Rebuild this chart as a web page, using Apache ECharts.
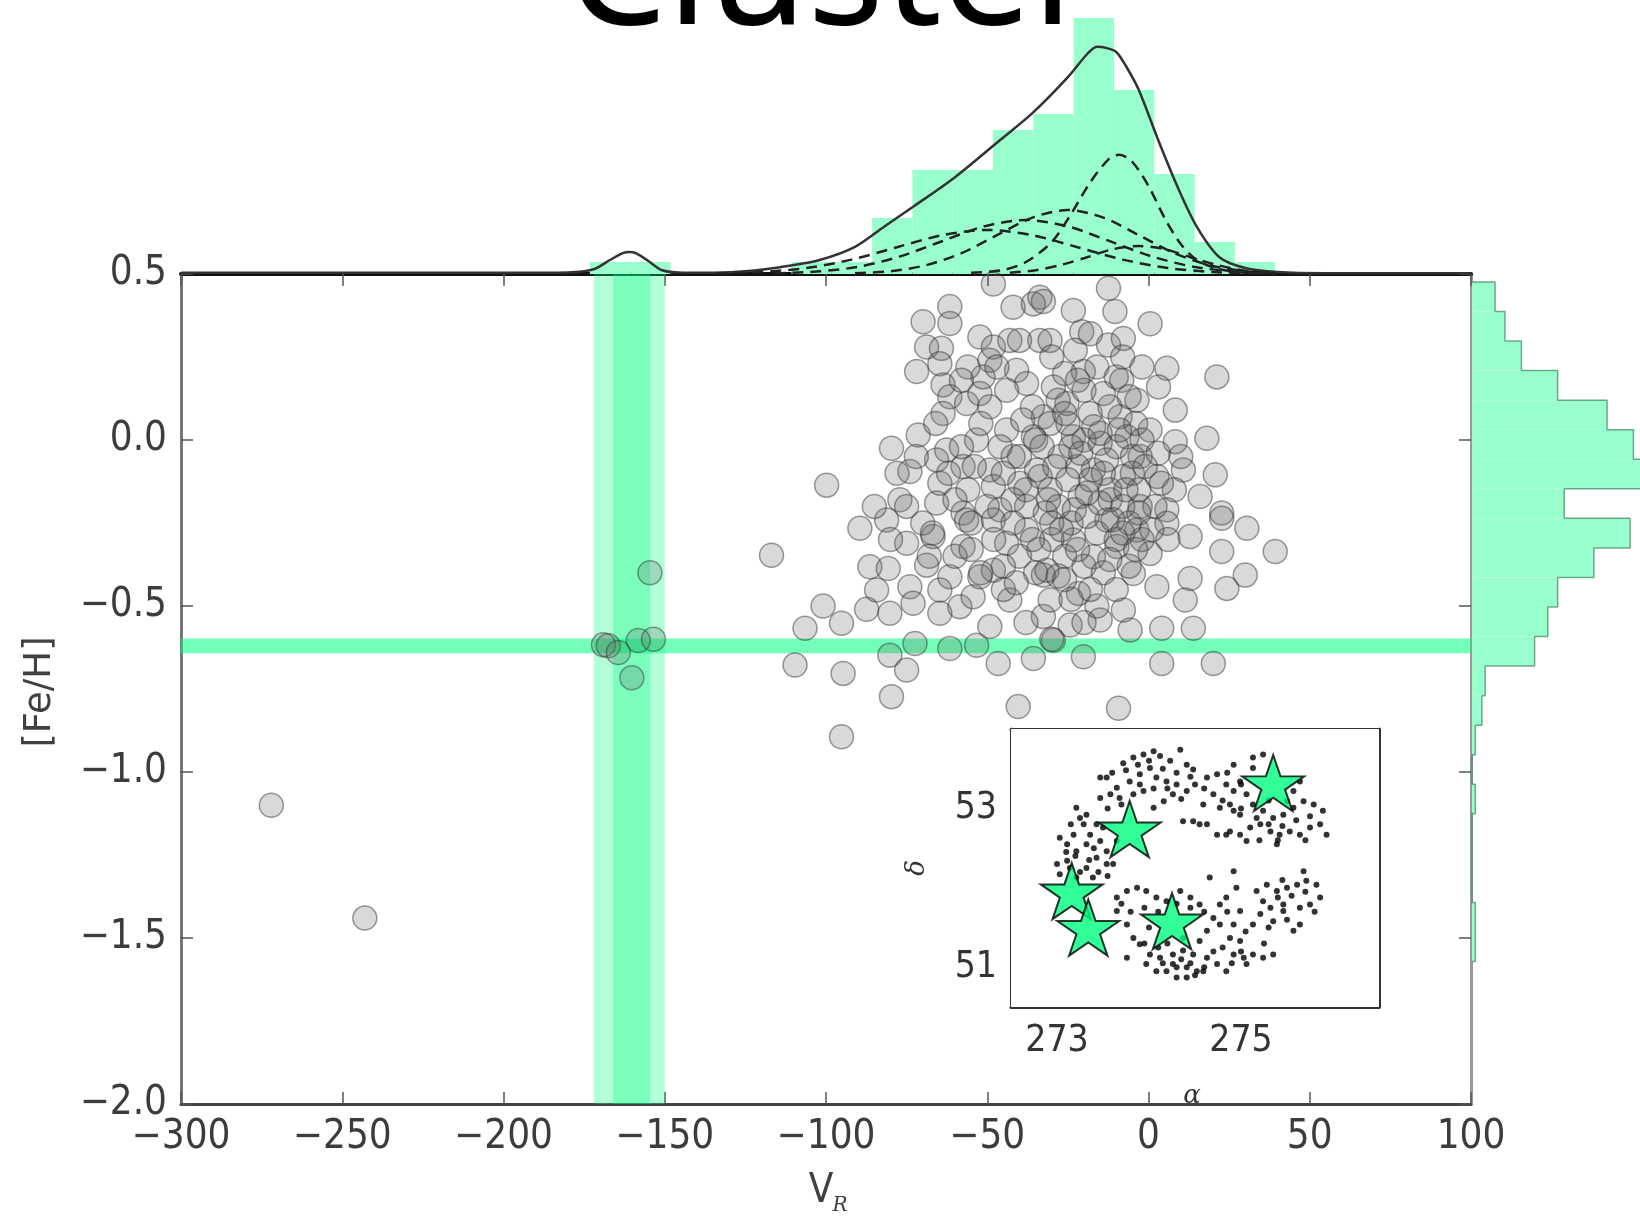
<!DOCTYPE html>
<html>
<head>
<meta charset="utf-8">
<script src="https://cdn.jsdelivr.net/npm/echarts@6/dist/echarts.min.js"></script>
<style>
html,body{margin:0;padding:0;background:#fff}
#chart{width:1640px;height:1218px}
</style>
</head>
<body>
<div id="chart"></div>
<script>
// ---- data ----
// main panel: radial velocity vs metallicity
const clusterPoints = [
  [-99.8,-0.136],[-79.7,-0.025],[-74.0,-0.095],[-71.4,0.015],[-77.1,-0.18],[-71.9,0.206],[-69.9,0.356],[-61.6,0.402],
  [-61.6,0.351],[-68.8,0.28],[-64.2,0.276],[-64.7,0.23],[-63.7,0.166],[-61.6,0.13],[-63.7,0.08],[-56.4,0.11],
  [-52.3,0.14],[-49.2,0.10],[-52.3,0.31],[-48.1,0.28],[-43.0,0.30],[-49.2,0.24],[-51.3,0.19],[-42.0,0.40],
  [-35.7,0.41],[-33.7,0.43],[-48.1,0.47],[-33.7,0.30],[-40.9,0.21],[-37.8,0.17],[-44.0,0.03],[-53.3,0.00],
  [-62.6,-0.03],[-65.7,-0.06],[-57.5,-0.08],[-49.2,-0.09],[-42.0,-0.05],[-35.7,0.01],[-64.7,-0.13],[-65.7,-0.19],
  [-57.5,-0.22],[-48.1,-0.14],[-39.9,-0.13],[-32.6,0.07],[-34.7,-0.09],[-46.1,-0.21],[-37.8,-0.20],
  [-12.4,0.457],[-10.4,0.387],[0.5,0.35],[-23.3,0.39],[-32.6,0.417],[-20.7,0.326],[-30.5,0.30],[-22.7,0.27],
  [-12.4,0.286],[-7.8,0.306],[-20.2,0.206],[5.7,0.216],[21.2,0.19],[3.1,0.16],[-8.3,0.18],[-3.6,0.12],
  [-29.5,0.16],[8.3,0.09],[18.1,0.005],[8.3,-0.005],[0.5,0.03],[-8.8,0.07],[-18.1,0.08],[-25.3,0.11],
  [-30.5,0.05],[-23.3,0.01],[-15.0,-0.01],[-6.7,0.01],[-2.6,-0.05],[2.6,-0.11],[10.8,-0.09],[20.7,-0.105],
  [16.0,-0.17],[22.7,-0.22],[-7.8,-0.11],[-17.1,-0.09],[-27.4,-0.05],[-30.5,-0.15],[-21.2,-0.17],[-11.9,-0.18],
  [-2.6,-0.20],[5.7,-0.21],[-33.6,-0.11],
  [-116.9,-0.347],[-100.9,-0.50],[-106.5,-0.567],[-95.2,-0.552],[-109.6,-0.678],[-94.7,-0.703],[-95.2,-0.894],
  [-79.7,-0.773],[-80.2,-0.648],[-75.0,-0.693],[-87.4,-0.51],[-80.2,-0.522],[-86.4,-0.382],[-80.7,-0.387],
  [-84.3,-0.452],[-74.0,-0.442],[-73.0,-0.492],[-89.5,-0.266],[-81.2,-0.241],[-75.0,-0.311],[-66.8,-0.291],
  [-68.8,-0.377],[-64.7,-0.452],[-64.7,-0.522],[-58.5,-0.502],[-61.6,-0.412],[-57.5,-0.321],[-56.4,-0.241],
  [-72.4,-0.613],[-61.6,-0.628],[-53.3,-0.618],[-49.2,-0.562],[-46.6,-0.673],[-40.4,-0.803],[-35.7,-0.658],
  [-44.0,-0.311],[-48.1,-0.392],[-54.4,-0.472],[-43.0,-0.482],[-32.6,-0.407],[-32.6,-0.532],[-52.3,-0.412],
  [-48.1,-0.241],[-37.8,-0.271],
  [22.7,-0.236],[30.5,-0.266],[39.3,-0.336],[22.7,-0.336],[30.0,-0.407],[24.3,-0.447],[12.9,-0.417],[11.4,-0.482],
  [13.9,-0.567],[2.6,-0.442],[4.1,-0.567],[20.1,-0.673],[4.1,-0.673],[-9.3,-0.808],[-20.2,-0.653],[-29.5,-0.603],
  [-24.3,-0.557],[-21.7,-0.462],[-15.0,-0.542],[-5.7,-0.572],[-4.7,-0.402],[-17.1,-0.352],[0.5,-0.342],[12.9,-0.291],
  [5.7,-0.251],[-9.8,-0.321],[-7.8,-0.512],[-31.5,-0.392],[-30.5,-0.482],[-12.9,-0.241],[-3.6,-0.271],[-23.3,-0.301],
  [-25,0.05],[-20,0.0],[-15,0.02],[-10,-0.02],[-5,-0.05],[-22,-0.08],[-18,-0.12],[-12,-0.15],[-8,-0.2],[-3,-0.15],
  [-28,-0.2],[-24,-0.25],[-16,-0.28],[-10,-0.3],[-2,-0.3],[-6,-0.25],[-30,-0.3],[-26,-0.35],[-20,-0.38],[-14,-0.4],
  [-35,0.0],[-40,-0.05],[-45,-0.1],[-38,-0.15],[-32,-0.22],[-42,-0.25],[-50,-0.2],[-55,-0.25],[-48,-0.3],[-40,-0.35],
  [-35,-0.4],[-28,0.12],[-20,0.15],[-12,0.1],[-4,0.05],[-16,0.22],[-26,0.2],[-36,0.1],[-44,0.15],[-52,0.05],
  [-58,-0.02],[-62,-0.1],[-56,-0.15],[-70,-0.25],[-75,-0.2],[-80,-0.3],[-68,-0.35],[-60,-0.35],[-52,-0.4],[-45,-0.45],
  [-6,-0.38],[2,-0.2],[6,-0.3],[8,-0.15],[-2,0.0],[10,-0.05],[-18,0.32],[-8,0.25],[-30,0.25],[-40,0.3],
  [-56,0.22],[-78,-0.1],[-85,-0.2],[-66,0.05],[-72,-0.05],[-24,-0.48],[-16,-0.5],[-10,-0.45],[-38,-0.55],[-30,-0.6],[-20,-0.55],
  [-33,-0.02],[-29,-0.08],[-25,-0.12],[-21,-0.04],[-17,0.04],[-13,-0.06],[-9,0.03],[-5,-0.1],[-1,-0.08],[3,-0.04],
  [-31,-0.18],[-27,-0.27],[-23,-0.21],[-19,-0.23],[-15,-0.19],[-11,-0.24],[-7,-0.15],[-3,-0.22],[1,-0.27],[4,-0.13],
  [-34,-0.33],[-28,-0.41],[-22,-0.33],[-18,-0.45],[-12,-0.36],[-8,-0.28],[-4,-0.33],[-26,0.08],[-22,0.18],[-14,0.14],
  [-10,0.19],[-6,0.13],[-2,0.22],[-24,-0.02],[-19,-0.16],[-14,-0.1],[-30,-0.25],[-36,-0.3],[-42,-0.18],[-46,-0.02],
  [-39,0.06],[-47,0.22],[-58,0.18],[-54,-0.08],[-60,-0.18],[-67,-0.28],[-45,-0.38],[-41,-0.43],[-55,-0.33],[-26,-0.42]
];
const halo = [[-272,-1.10],[-243,-1.44]];
const streamGroup = [[-169,-0.617],[-167.5,-0.62],[-164.4,-0.64],[-160.2,-0.716],[-158.2,-0.604],[-153.5,-0.60],[-154.6,-0.40]];

// highlighted ranges
const velBandOuter = [-172, -150];
const velBandInner = [-166, -154.5];
const fehBand = [-0.642, -0.598];

// top histogram (V_R)
const vBinLo = [-173.2,-160.7,-110.7,-98.2,-85.7,-73.2,-60.7,-48.2,-35.7,-23.2,-10.7,1.8,14.3,26.8];
const vBinHi = [-160.7,-148.2,-98.2,-85.7,-73.2,-60.7,-48.2,-35.7,-23.2,-10.7,1.8,14.3,26.8,39.3];
const vCounts = [3,3,3,3,14,26,26,36,40,64,46,25,8,3];

// fitted total and components
const fitTotal = [[-300,0.3],[-250,0.3],[-200,0.3],[-180,0.4],[-172,1.2],[-167,3.5],[-163,5.2],[-161,5.5],[-159,5.2],
  [-155,3.2],[-151,1.0],[-146,0.4],[-135,0.3],[-123,0.8],[-112,2.0],[-102,3.5],[-91,6.8],[-82,11.8],[-73,16.8],
  [-60,24.2],[-46,33.5],[-36,40.2],[-25,49.2],[-19,55],[-16,56.8],[-13,56.5],[-10,55.5],[-7,52],[-3,46],[3,33.5],
  [9,21.8],[15,11.8],[22,4.2],[30,1.5],[40,0.5],[55,0.2],[100,0.2]];
const compA = [[-55,0.3],[-45,1],[-38,3],[-30,8],[-24,15],[-18,23],[-12,29],[-9,29.8],[-5,28],[0,22],[5,14],[10,7.5],[15,3.5],[22,1.2],[30,0.3],[40,0.1]];
const compB = [[-91,0.2],[-80,0.7],[-69,2.2],[-58,5.2],[-47,9.7],[-36,14.1],[-25,16],[-14,14.1],[-3,9.7],[8,5.2],[19,2.2],[30,0.7],[41,0.2]];
const compC = [[-116,0.15],[-103,0.6],[-90,1.8],[-77,4.4],[-64,8.2],[-51,11.9],[-38,13.5],[-25,11.9],[-12,8.2],[1,4.4],[14,1.8],[27,0.6],[40,0.15]];
const compD = [[-134,0.1],[-120,0.5],[-106,1.5],[-92,3.6],[-78,6.7],[-64,9.7],[-50,11],[-36,9.7],[-22,6.7],[-8,3.6],[6,1.5],[20,0.5],[34,0.1]];
const compE = [[-43,0.3],[-35,0.95],[-27,2.3],[-19,4.2],[-11,6.2],[-3,7],[5,6.2],[13,4.2],[21,2.3],[29,0.95],[37,0.3]];

// right histogram ([Fe/H])
const feEdges = [0.476,0.387,0.298,0.209,0.120,0.031,-0.058,-0.147,-0.236,-0.325,-0.414,-0.503,-0.592,-0.681,-0.770,-0.859,-0.948,-1.037,-1.126,-1.215,-1.304,-1.393,-1.482,-1.571];
const feCounts = [7,10,15,26,41,49,55,28,48,37,26,23,19,4,3,1,0,1,0,0,0,1,1];

// inset: sky positions
const fieldStars = [
  [273.72,53.57],[273.83,53.64],[273.94,53.68],[274.05,53.72],[274.12,53.66],[274.23,53.60],[274.34,53.74],[274.41,53.55],
  [274.48,53.49],[274.01,53.51],[273.90,53.43],[273.79,53.34],[273.65,53.26],[273.54,53.39],[273.47,53.39],[274.08,53.39],
  [274.19,53.34],[274.30,53.30],[274.41,53.22],[274.26,53.18],[274.16,53.09],[274.05,53.01],[273.94,53.22],[273.83,53.18],
  [273.68,53.13],[273.58,53.18],[273.47,53.13],
  [274.63,53.39],[274.74,53.43],[274.84,53.30],[274.92,53.22],[274.70,53.18],[274.59,53.05],[274.77,53.01],[274.92,52.97],
  [275.06,53.18],[275.13,53.05],[275.24,52.97],[275.35,52.88],[275.46,52.92],[275.57,53.01],[275.68,53.09],[275.79,53.05],
  [275.86,52.80],[275.75,52.76],[275.64,52.67],[275.53,52.71],[275.42,52.67],[275.32,52.71],[275.21,52.80],[275.10,52.76],
  [274.99,52.67],[274.88,52.71],[275.06,52.59],[275.39,52.55],[275.17,52.88],[274.99,52.92],[274.88,53.05],[274.48,52.84],
  [274.55,52.80],[274.63,52.80],[274.37,52.84],[274.74,52.67],[274.84,52.67],[274.92,53.55],[275.13,53.51],[274.99,53.34],
  [275.57,53.22],[275.64,53.34],[275.50,53.09],[275.13,53.64],[275.24,53.68],[275.93,52.67],[275.89,52.97],
  [273.21,53.01],[273.32,52.92],[273.29,52.80],[273.18,52.67],[273.36,52.67],[273.47,52.59],[273.32,52.55],[273.21,52.46],
  [273.11,52.34],[273.03,52.63],[273.43,52.38],[273.54,52.30],[273.32,52.25],[273.14,52.25],[273.03,52.17],[273.21,52.13],
  [273.39,52.13],[273.54,52.46],[273.65,52.59],[273.50,52.76],[273.43,52.80],[273.25,52.88],[273.11,52.55],[273.61,52.30],
  [273.65,51.88],[273.76,51.96],[273.87,52.00],[273.97,51.96],[274.08,51.88],[274.19,51.83],[274.34,51.96],[274.45,51.88],
  [274.55,51.79],[273.65,51.71],[273.76,51.54],[273.83,51.37],[273.90,51.29],[273.76,51.12],[274.01,51.16],[274.12,51.12],
  [274.26,51.16],[274.37,51.21],[274.08,50.95],[274.19,50.95],[274.30,50.87],[274.41,51.00],[274.52,50.95],[274.63,51.12],
  [274.74,51.04],[274.84,50.95],[274.92,51.16],[275.03,51.12],[275.13,51.16],[275.24,51.12],[275.35,51.16],[274.99,51.33],
  [274.88,51.37],[274.77,51.54],[274.70,51.62],[274.63,51.46],[274.55,51.33],[274.92,51.54],[274.99,51.71],[274.77,51.79],
  [274.84,51.88],[274.95,52.00],[274.66,52.13],[274.92,52.21],[273.97,51.04],[274.26,51.04],[274.41,50.87],[274.59,50.95],
  [275.06,51.04],[274.37,51.37],[274.48,51.16],
  [275.28,52.04],[275.39,51.96],[275.50,52.00],[275.61,52.04],[275.71,52.09],[275.82,52.04],[275.86,51.88],[275.75,51.79],
  [275.64,51.75],[275.46,51.79],[275.32,51.75],[275.24,51.83],[275.21,51.67],[275.35,51.58],[275.64,51.54],[275.57,51.46],
  [275.68,52.21],[275.46,51.71],[275.17,51.96],[275.13,51.54],
  [273.6,53.45],[273.75,53.48],[273.88,53.55],[274.0,53.6],[274.15,53.5],[274.3,53.45],[274.45,53.4],[273.9,53.3],
  [274.05,53.25],[274.2,53.25],[274.35,53.12],[273.7,53.05],[273.55,53.0],[274.5,53.3],[274.6,53.25],
  [274.8,53.1],[275.0,53.0],[275.3,52.8],[275.45,52.78],[275.6,52.85],[275.75,52.9],[275.3,53.1],[275.0,53.3],
  [274.85,53.45],[275.4,52.6],[275.7,52.6],[275.2,52.6],
  [273.15,52.8],[273.2,52.4],[273.1,52.45],[273.4,52.5],[273.35,52.35],[273.25,52.2],[273.45,52.2],[273.55,52.15],[273.0,52.3],
  [273.7,51.8],[273.8,51.7],[273.95,51.75],[274.1,51.7],[274.0,51.5],[273.95,51.3],[274.1,51.25],[274.2,51.3],
  [274.15,51.05],[274.3,51.0],[274.35,51.1],[274.45,51.05],[274.5,50.9],[274.6,51.0],[274.7,51.2],[274.8,51.25],
  [274.9,51.05],[275.0,51.2],[274.85,51.7],[275.05,51.45],[274.6,51.7],[274.45,51.75],[274.3,51.8],
  [275.4,51.88],[275.55,51.9],[275.7,51.95],[275.8,51.7],[275.3,51.5],[275.5,51.6],[275.25,51.3],[275.45,52.1]
];
const groupStars = [[275.35,53.32],[273.79,52.74],[273.16,51.96],[273.34,51.50],[274.25,51.58]];

const velTicks = [273, 275];
const decTicks = [51, 53];

// ---- chart ----
const chart = echarts.init(document.getElementById('chart'));
const minus = s => String(s).replace('-', '\u2212');
const labelFont = '"DejaVu Sans Condensed", "DejaVu Sans", sans-serif';
const springAlpha = a => 'rgba(0,255,127,' + a + ')';

const rectItem = (p0, p1, fill) => ({
  type: 'rect',
  shape: {x: Math.min(p0[0], p1[0]), y: Math.min(p0[1], p1[1]), width: Math.abs(p1[0] - p0[0]), height: Math.abs(p1[1] - p0[1])},
  style: {fill: fill}
});

const bandData = [
  {value: [velBandOuter[0], velBandOuter[1], -2, 0.5], itemStyle: {color: springAlpha(0.3)}},
  {value: [velBandInner[0], velBandInner[1], -2, 0.5], itemStyle: {color: springAlpha(0.3)}},
  {value: [-300, 100, fehBand[0], fehBand[1]], itemStyle: {color: springAlpha(0.55)}}
];

const rightOutline = [[0, feEdges[0]]];
feCounts.forEach((c, i) => { rightOutline.push([c, feEdges[i]], [c, feEdges[i + 1]]); });
rightOutline.push([0, feEdges[feEdges.length - 1]]);

const dashed = (data) => ({
  type: 'line', xAxisIndex: 2, yAxisIndex: 2, data: data, showSymbol: false, smooth: 0.3, z: 4,
  lineStyle: {color: '#222', width: 2.5, type: [11, 7]}
});

const inTick = (len, color, width) => ({show: true, inside: true, length: len, lineStyle: {color: color, width: width}});

const option = {
  animation: false,
  backgroundColor: '#fff',
  grid: [
    {left: 181, top: 274, width: 1290, height: 830, outerBoundsMode: 'none'},
    {left: 181, top: 0, width: 1290, height: 274, outerBoundsMode: 'none'},
    {left: 1472, top: 274, width: 168, height: 830, outerBoundsMode: 'none'},
    {left: 1011, top: 729, width: 368, height: 278, outerBoundsMode: 'none', show: true, backgroundColor: '#fff', borderWidth: 0, z: 5}
  ],
  xAxis: [
    {gridIndex: 0, type: 'value', min: -300, max: 100, interval: 50, position: 'bottom',
     axisLine: {onZero: false, lineStyle: {color: '#444', width: 3}}, axisTick: inTick(12, '#555', 1.5),
     axisLabel: {fontSize: 40, color: '#3c3c3c', margin: 14, fontFamily: labelFont, formatter: minus}, splitLine: {show: false}},
    {gridIndex: 0, type: 'value', min: -300, max: 100, interval: 50, position: 'top',
     axisLine: {onZero: false, lineStyle: {color: '#111', width: 4}}, axisTick: inTick(12, '#555', 1.5),
     axisLabel: {show: false}, splitLine: {show: false}},
    {gridIndex: 1, type: 'value', min: -300, max: 100, position: 'bottom',
     axisLine: {onZero: false, lineStyle: {color: '#111', width: 3}}, axisTick: {show: false},
     axisLabel: {show: false}, splitLine: {show: false}},
    {gridIndex: 2, type: 'value', min: 0, max: 51, show: false},
    {gridIndex: 3, type: 'value', min: 272.5, max: 276.5, position: 'bottom',
     axisLine: {onZero: false, lineStyle: {color: '#333', width: 3}},
     axisTick: Object.assign(inTick(10, '#333', 1.5), {customValues: velTicks}),
     axisLabel: {fontSize: 37, color: '#333', margin: 16, fontFamily: labelFont, customValues: velTicks}, splitLine: {show: false}},
    {gridIndex: 3, type: 'value', min: 272.5, max: 276.5, position: 'top',
     axisLine: {onZero: false, lineStyle: {color: '#333', width: 3}},
     axisTick: Object.assign(inTick(10, '#333', 1.5), {customValues: velTicks}),
     axisLabel: {show: false}, splitLine: {show: false}}
  ],
  yAxis: [
    {gridIndex: 0, type: 'value', min: -2, max: 0.5, interval: 0.5, position: 'left',
     axisLine: {onZero: false, lineStyle: {color: '#777', width: 3}}, axisTick: inTick(12, '#555', 1.5),
     axisLabel: {fontSize: 40, color: '#3c3c3c', margin: 14, fontFamily: labelFont, formatter: v => minus(v.toFixed(1))},
     splitLine: {show: false}},
    {gridIndex: 0, type: 'value', min: -2, max: 0.5, interval: 0.5, position: 'right',
     axisLine: {onZero: false, lineStyle: {color: '#999', width: 2}}, axisTick: inTick(12, '#555', 1.5),
     axisLabel: {show: false}, splitLine: {show: false}},
    {gridIndex: 1, type: 'value', min: 0, max: 68.5, show: false},
    {gridIndex: 2, type: 'value', min: -2, max: 0.5, position: 'left',
     axisLine: {onZero: false, lineStyle: {color: '#999', width: 2}}, axisTick: {show: false},
     axisLabel: {show: false}, splitLine: {show: false}},
    {gridIndex: 3, type: 'value', min: 50.5, max: 54, position: 'left',
     axisLine: {onZero: false, lineStyle: {color: '#333', width: 3}},
     axisTick: Object.assign(inTick(10, '#333', 1.5), {customValues: decTicks}),
     axisLabel: {fontSize: 37, color: '#333', margin: 14, fontFamily: labelFont, customValues: decTicks}, splitLine: {show: false}},
    {gridIndex: 3, type: 'value', min: 50.5, max: 54, position: 'right',
     axisLine: {onZero: false, lineStyle: {color: '#333', width: 3}},
     axisTick: Object.assign(inTick(10, '#333', 1.5), {customValues: decTicks}),
     axisLabel: {show: false}, splitLine: {show: false}}
  ],
  series: [
    {type: 'custom', xAxisIndex: 0, yAxisIndex: 0, z: 1, clip: true, data: bandData,
     encode: {x: [0, 1], y: [2, 3]},
     renderItem: (params, api) => rectItem(api.coord([api.value(0), api.value(3)]), api.coord([api.value(1), api.value(2)]), api.visual('color'))},
    {type: 'scatter', xAxisIndex: 0, yAxisIndex: 0, z: 3, symbolSize: 24,
     data: clusterPoints.concat(halo, streamGroup),
     itemStyle: {color: 'rgba(100,100,100,0.3)', borderColor: 'rgba(50,50,50,0.6)', borderWidth: 1.5}},
    {type: 'custom', xAxisIndex: 2, yAxisIndex: 2, z: 2,
     data: vBinLo.map((lo, i) => [lo, vBinHi[i], vCounts[i]]),
     encode: {x: [0, 1], y: 2},
     renderItem: (params, api) => rectItem(api.coord([api.value(0), api.value(2)]), api.coord([api.value(1), 0]), '#99ffcc')},
    {type: 'line', xAxisIndex: 2, yAxisIndex: 2, data: fitTotal, showSymbol: false, smooth: 0.3, z: 4,
     lineStyle: {color: '#333', width: 2.5}},
    dashed(compA), dashed(compB), dashed(compC), dashed(compD), dashed(compE),
    {type: 'custom', xAxisIndex: 3, yAxisIndex: 3, z: 2, clip: true,
     data: feCounts.map((c, i) => [feEdges[i], feEdges[i + 1], c]),
     encode: {x: 2, y: [0, 1]},
     renderItem: (params, api) => rectItem(api.coord([api.value(2), api.value(0)]), api.coord([0, api.value(1)]), '#99ffcc')},
    {type: 'line', xAxisIndex: 3, yAxisIndex: 3, data: rightOutline, showSymbol: false, z: 3, clip: true,
     lineStyle: {color: 'rgba(70,140,105,0.75)', width: 1.5}},
    {type: 'scatter', xAxisIndex: 4, yAxisIndex: 4, z: 6, symbolSize: 6, data: fieldStars,
     itemStyle: {color: '#000'}},
    {type: 'scatter', xAxisIndex: 4, yAxisIndex: 4, z: 7, data: groupStars,
     symbol: 'path://M0,-1000 L224,-309 L951,-309 L363,118 L588,809 L0,382 L-588,809 L-363,118 L-951,-309 L-224,-309 Z',
     symbolSize: [62, 59], symbolKeepAspect: true,
     itemStyle: {color: '#00ff7f', borderColor: '#000', borderWidth: 2}}
  ],
  graphic: [
    {type: 'text', x: 832, y: -22, z: 100,
     style: {text: 'Cluster', font: '160px "Noto Sans", sans-serif', fill: '#000', align: 'center', verticalAlign: 'middle'}},
    {type: 'text', x: 40, y: 692, rotation: Math.PI / 2,
     style: {text: '[Fe/H]', font: '37px "DejaVu Sans", sans-serif', fill: '#404040', align: 'center', verticalAlign: 'middle'}},
    {type: 'text', x: 821, y: 1192,
     style: {text: 'V', font: '40px "DejaVu Sans Condensed", "DejaVu Sans", sans-serif', fill: '#404040', align: 'center', verticalAlign: 'middle'}},
    {type: 'text', x: 840, y: 1206,
     style: {text: 'R', font: 'italic 20px "DejaVu Serif", serif', fill: '#404040', align: 'center', verticalAlign: 'middle'}},
    {type: 'text', x: 917, y: 868, rotation: Math.PI / 2, z: 10,
     style: {text: 'δ', font: 'italic 26px "DejaVu Serif", serif', fill: '#333', align: 'center', verticalAlign: 'middle'}},
    {type: 'text', x: 1192, y: 1096, z: 0,
     style: {text: 'α', font: 'italic 26px "DejaVu Serif", serif', fill: '#333', align: 'center', verticalAlign: 'middle'}}
  ]
};
chart.setOption(option);
</script>
</body>
</html>
